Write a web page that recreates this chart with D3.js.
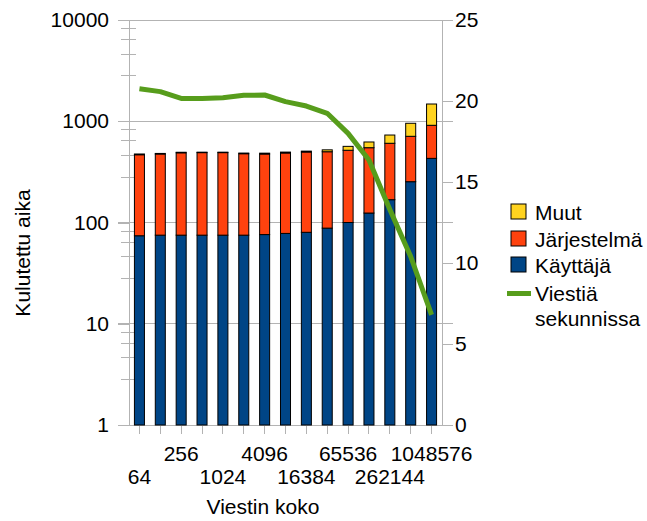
<!DOCTYPE html>
<html>
<head>
<meta charset="utf-8">
<script src="https://cdn.jsdelivr.net/npm/d3@7"></script>
<style>
  html, body { margin: 0; padding: 0; background: #fff; }
  svg { display: block; font-family: "Liberation Sans", Arial, sans-serif; }
</style>
</head>
<body>
<svg id="chart" width="647" height="521"></svg>
<script>
// ---- data ----
const categories = ["64","128","256","512","1024","2048","4096","8192","16384","32768","65536","131072","262144","524288","1048576"];
const userTime   = [74, 75, 75, 75, 75, 75, 76, 78, 80, 88, 100, 124, 168, 253, 430];   // Käyttäjä
const systemTime = [393, 400, 413, 415, 415, 403, 399, 408, 417, 412, 417, 424, 438, 457, 482]; // Järjestelmä
const otherTime  = [8, 6, 6, 5, 5, 7, 9, 10, 10, 22, 48, 76, 125, 245, 568]; // Muut
const msgPerSec  = [20.76, 20.58, 20.16, 20.16, 20.2, 20.35, 20.37, 19.96, 19.69, 19.24, 18.0, 16.36, 13.3, 10.4, 6.8];
const leftTicks  = [1, 10, 100, 1000, 10000];
const rightTicks = [0, 5, 10, 15, 20, 25];
const seriesNames = ["Muut", "Järjestelmä", "Käyttäjä", "Viestiä sekunnissa"];

// ---- layout ----
const L = 129, R = 442, T = 20, B = 425;
const svg = d3.select("#chart");
const colors = { user: "#004586", system: "#ff420e", other: "#ffd320", line: "#579d1c" };
const grid = "#b3b3b3";
const fs = 21;

const x = d3.scaleBand().domain(categories).range([L, R]).paddingInner(0.52).paddingOuter(0.26);
const y = d3.scaleLog().domain([1, 10000]).range([B, T]);
const y2 = d3.scaleLinear().domain([0, 25]).range([B, T]);

// gridlines
svg.append("g").selectAll("line").data(leftTicks).join("line")
  .attr("x1", 118).attr("x2", 453)
  .attr("y1", d => y(d)).attr("y2", d => y(d))
  .attr("stroke", grid).attr("stroke-width", 1).attr("shape-rendering", "crispEdges");

// minor ticks (LibreOffice style: linear steps of 1.8 within each decade)
const minor = [];
[1, 10, 100, 1000].forEach(dec => { [2.8, 4.6, 6.4, 8.2].forEach(m => minor.push(dec * m)); });
svg.append("g").selectAll("line").data(minor).join("line")
  .attr("x1", 121).attr("x2", 136)
  .attr("y1", d => y(d)).attr("y2", d => y(d))
  .attr("stroke", grid).attr("stroke-width", 1).attr("shape-rendering", "crispEdges");

// left axis
const gl = svg.append("g").attr("transform", `translate(${L},0)`)
  .call(d3.axisLeft(y).tickValues(leftTicks).tickFormat(d3.format("d")).tickSize(11).tickPadding(9));
// right axis
const gr = svg.append("g").attr("transform", `translate(${R},0)`)
  .call(d3.axisRight(y2).tickValues(rightTicks).tickSize(11).tickPadding(2));
// bottom axis
const gb = svg.append("g").attr("transform", `translate(0,${B})`)
  .call(d3.axisBottom(x).tickSize(9).tickFormat(""));
[gl, gr, gb].forEach(g => {
  g.select(".domain").attr("stroke", grid).attr("shape-rendering", "crispEdges");
  g.selectAll(".tick line").attr("stroke", grid).attr("shape-rendering", "crispEdges");
  g.selectAll("text").attr("font-size", fs).attr("fill", "#000").attr("font-family", "Liberation Sans, Arial, sans-serif");
});
gb.select(".domain").attr("d", `M${L},0.5H${R}`);
gl.select(".domain").attr("d", `M0.5,${T}V${B}`);
gr.select(".domain").attr("d", `M0.5,${T}V${B}`);

// stacked bars
const rows = categories.map((c, i) => ({ cat: c, user: userTime[i], system: systemTime[i], other: otherTime[i] }));
const stack = d3.stack().keys(["user", "system", "other"])(rows);
svg.append("g").selectAll("g").data(stack).join("g")
  .attr("fill", d => colors[d.key])
  .selectAll("rect").data(d => d).join("rect")
  .attr("x", d => x(d.data.cat))
  .attr("width", x.bandwidth())
  .attr("y", d => y(d[1]))
  .attr("height", d => y(Math.max(1, d[0])) - y(d[1]))
  .attr("stroke", "#000").attr("stroke-width", 1);

// line
const line = d3.line()
  .x((d, i) => x(categories[i]) + x.bandwidth() / 2)
  .y(d => y2(d));
svg.append("path").datum(msgPerSec)
  .attr("d", line).attr("fill", "none")
  .attr("stroke", colors.line).attr("stroke-width", 5)
  .attr("stroke-linejoin", "round");

// x labels (every second, alternating rows)
svg.append("g").selectAll("text")
  .data(categories.map((c, i) => ({ c, i })).filter(d => d.i % 2 === 0))
  .join("text")
  .attr("x", d => x(d.c) + x.bandwidth() / 2)
  .attr("y", d => (d.i % 4 === 0) ? 484 : 461)
  .attr("text-anchor", "middle").attr("font-size", fs)
  .text(d => d.c);

// axis titles
svg.append("text").attr("x", 263).attr("y", 514).attr("text-anchor", "middle")
  .attr("font-size", fs).text("Viestin koko");
svg.append("text").attr("transform", "translate(30,253) rotate(-90)")
  .attr("text-anchor", "middle").attr("font-size", fs).text("Kulutettu aika");

// legend
const lg = svg.append("g");
const swatches = [
  { name: seriesNames[0], color: colors.other, y: 204 },
  { name: seriesNames[1], color: colors.system, y: 231 },
  { name: seriesNames[2], color: colors.user, y: 257 }
];
swatches.forEach(s => {
  lg.append("rect").attr("x", 511).attr("y", s.y).attr("width", 15).attr("height", 15)
    .attr("fill", s.color).attr("stroke", "#000").attr("stroke-width", 1);
  lg.append("text").attr("x", 535).attr("y", s.y + 15.5).attr("font-size", fs).text(s.name);
});
lg.append("line").attr("x1", 507).attr("x2", 531).attr("y1", 293.5).attr("y2", 293.5)
  .attr("stroke", colors.line).attr("stroke-width", 5);
const parts = seriesNames[3].split(" ");
lg.append("text").attr("x", 535).attr("y", 300.5).attr("font-size", fs).text(parts[0]);
lg.append("text").attr("x", 535).attr("y", 325.5).attr("font-size", fs).text(parts[1]);
</script>
</body>
</html>
